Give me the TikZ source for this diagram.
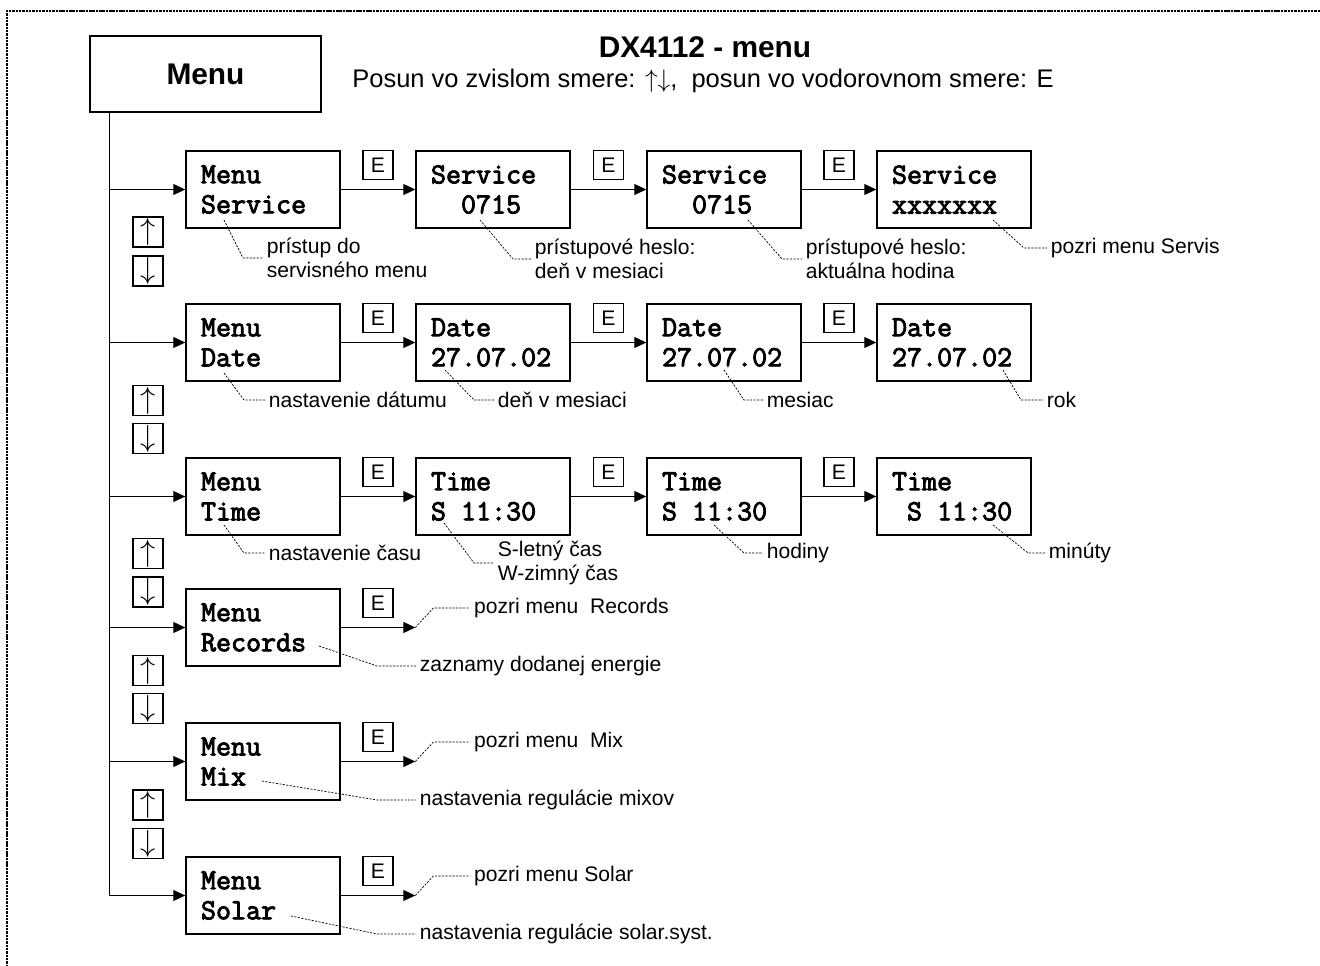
\documentclass[tikz,border=0pt]{standalone}
\usepackage{fontspec}
\setmainfont{Liberation Sans}
\newfontfamily\lcdfont{Latin Modern Mono}[FakeBold=3]
\usepackage{tikz}
\usetikzlibrary{positioning,arrows.meta}
\tikzset{
  lcd/.style     ={rectangle,draw,line width=0.8pt,minimum height=1.54cm,text width=2.48cm,
                   inner xsep=0.3cm,inner ysep=0pt,align=left,
                   font=\lcdfont\fontsize{16.6}{17.1}\selectfont},
  ekey/.style    ={rectangle,draw,line width=0.7pt,minimum width=0.6cm,minimum height=0.58cm,
                   inner sep=0pt,font=\fontsize{12}{12}\selectfont},
  updown/.style  ={ekey,minimum height=0.6cm,font=\fontsize{16}{16}\selectfont},
  note/.style    ={anchor=west,align=left,inner xsep=0.07cm,inner ysep=0pt,
                   font=\fontsize{12}{13.7}\selectfont},
  flow/.style    ={-{Triangle[length=6.8pt,width=6.2pt]},line width=0.6pt},
  leader/.style  ={line width=0.4pt,dash pattern=on 1.2pt off 0.8pt},
  dotframe/.style={line width=1.1pt,dash pattern=on 1.4pt off 0.5pt},
}
\begin{document}
\begin{tikzpicture}[x=0.02cm,y=-0.02cm]
  \useasboundingbox (0,0) rectangle (1320,966);
  \draw[dotframe] (1320,11) -- (7,11) -- (7,966);
  % header
  \node[draw,line width=0.8pt,minimum width=4.62cm,minimum height=1.52cm,
        font=\bfseries\fontsize{17}{20}\selectfont] (menu) at (205.5,74) {Menu};
  \node[font=\bfseries\fontsize{17}{20}\selectfont] (title) at (705,47) {DX4112 - menu};
  \node[anchor=base,font=\fontsize{14.5}{17}\selectfont] (hint) at (703,88)
       {Posun vo zvislom smere: $\uparrow\downarrow$,\ \ posun vo vodorovnom smere: E};
  % rows with four displays
  \foreach \i/\x/\txt in {1/263/{Menu\\Service},2/493/{Service\\\phantom{00}0715},
                          3/724/{Service\\\phantom{00}0715},4/954/{Service\\xxxxxxx}}
    \node[lcd] (s\i) at (\x,189.5) {\txt};
  \foreach \i/\x/\txt in {1/263/{Menu\\Date},2/493/{Date\\27.07.02},
                          3/724/{Date\\27.07.02},4/954/{Date\\27.07.02}}
    \node[lcd] (d\i) at (\x,342.5) {\txt};
  \foreach \i/\x/\txt in {1/263/{Menu\\Time},2/493/{Time\\S\phantom{0}11:30},
                          3/724/{Time\\S\phantom{0}11:30},4/954/{Time\\\phantom{0}S\phantom{0}11:30}}
    \node[lcd] (t\i) at (\x,496.5) {\txt};
  \foreach \r in {s,d,t}
    \foreach \i/\j in {1/2,2/3,3/4}
      \draw[flow] (\r\i) -- node[ekey,above=0.19cm]{E} (\r\j);
  % single displays
  \node[lcd] (rec) at (263,627.5) {Menu\\Records};
  \node[lcd] (mix) at (263,761.5) {Menu\\Mix};
  \node[lcd] (sol) at (263,895.5) {Menu\\Solar};
  \foreach \n/\txt in {rec/{pozri menu\ \ Records},mix/{pozri menu\ \ Mix},sol/{pozri menu Solar}}{
    \coordinate (\n E) at (s2.west |- \n.east);
    \draw[flow] (\n) -- node[ekey,above=0.19cm]{E} (\n E);
    \node[note] (\n see) at ([shift={(55,-19.5)}]\n E) {\txt};
    \draw[leader] (\n E) -- ([shift={(18,-19.5)}]\n E) -- (\n see);
  }
  % trunk
  \coordinate (tr) at ([xshift=0.4cm]menu.south west);
  \draw[flow] (tr) |- (sol);
  \foreach \n in {s1,d1,t1,rec,mix}
    \draw[flow] (tr |- \n.west) -- (\n);
  \foreach \i/\u/\d in {1/232/271,2/400.5/438.5,3/553.5/592,4/670.5/708.5,5/805/843.5}{
    \node[updown] (up\i) at (148,\u) {$\uparrow$};
    \node[updown] (dn\i) at (148,\d) {$\downarrow$};
  }
  % remarks
  \foreach \n/\sx/\sy/\bx/\by/\ex/\txt in {
      a1/224/220/243/258/263/{prístup do\\servisného menu},
      a2/480/220/513/259/531/{prístupové heslo:\\deň v mesiaci},
      a3/748/220/782/259/802/{prístupové heslo:\\aktuálna hodina},
      a4/993/220/1024/248/1047/{pozri menu Servis},
      b1/224/373/244/400/265/{nastavenie dátumu},
      b2/445/370/474/400/494/{deň v mesiaci},
      b3/724/370/744/400/763/{mesiac},
      b4/1003/370/1021/400/1043/{rok},
      c1/224/525/244/553/265/{nastavenie času},
      c2/444/523/474/563/494/{S-letný čas\\W-zimný čas},
      c3/714/525/744/553/763/{hodiny},
      c4/993/525/1028/553/1045/{minúty},
      e1/319/646/377/666/416/{zaznamy dodanej energie},
      e2/262/781/377/800/416/{nastavenia regulácie mixov},
      e3/291/916/377/934/416/{nastavenia regulácie solar.syst.}}{
    \coordinate (\n p) at (\sx,\sy);
    \node[note] (\n) at (\ex,\by) {\txt};
    \draw[leader] (\n p) -- (\bx,\by) -- (\n);
  }
\end{tikzpicture}
\end{document}
